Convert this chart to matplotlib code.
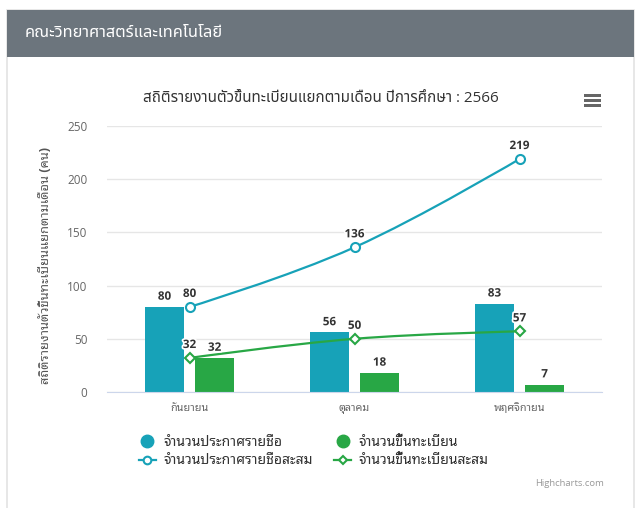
import matplotlib
matplotlib.use("Agg")
import matplotlib.pyplot as plt
import matplotlib.patheffects as pe
from matplotlib.patches import Rectangle, PathPatch
from matplotlib.path import Path
from matplotlib.lines import Line2D

# data
months = ["กันยายน", "ตุลาคม", "พฤศจิกายน"]
announced = [80, 56, 83]
registered = [32, 18, 7]
announced_cum = [80, 136, 219]
registered_cum = [32, 50, 57]
series_names = ["จำนวนประกาศรายชื่อ", "จำนวนขึ้นทะเบียน",
                "จำนวนประกาศรายชื่อสะสม", "จำนวนขึ้นทะเบียนสะสม"]

blue = "#17a2b8"
green = "#28a745"
thai = ["Open Sans", "Noto Sans Thai Looped"]
thai_title = ["Open Sans", "Noto Sans Thai"]


def spline_path(xs, ys):
    # highcharts-style spline (smoothing 1.5), control points only on inner points
    n = len(xs)
    lc = [(xs[i], ys[i]) for i in range(n)]
    rc = [(xs[i], ys[i]) for i in range(n)]
    for i in range(1, n - 1):
        x0, y0 = xs[i - 1], ys[i - 1]
        x1, y1 = xs[i], ys[i]
        x2, y2 = xs[i + 1], ys[i + 1]
        lcx = (1.5 * x1 + x0) / 2.5
        lcy = (1.5 * y1 + y0) / 2.5
        rcx = (1.5 * x1 + x2) / 2.5
        rcy = (1.5 * y1 + y2) / 2.5
        corr = ((rcy - lcy) * (rcx - x1)) / (rcx - lcx) + y1 - rcy
        lc[i] = (lcx, lcy + corr)
        rc[i] = (rcx, rcy + corr)
    verts = [(xs[0], ys[0])]
    codes = [Path.MOVETO]
    for i in range(1, n):
        verts += [rc[i - 1], lc[i], (xs[i], ys[i])]
        codes += [Path.CURVE4] * 3
    return Path(verts, codes)


fig = plt.figure(figsize=(6.4, 5.08), dpi=100)
fig.patch.set_facecolor("white")

# card + header
fig.patches.append(Rectangle((7 / 640, -0.01), 627 / 640, 1 - 10 / 508 + 0.01,
                             transform=fig.transFigure, facecolor="white",
                             edgecolor="#e3e3e3", linewidth=1.2, zorder=-2))
fig.patches.append(Rectangle((7 / 640, 1 - 57 / 508), 627 / 640, 47 / 508,
                             transform=fig.transFigure, facecolor="#6c757d",
                             edgecolor="none", zorder=-1))
fig.text(25 / 640, 1 - 33 / 508, "คณะวิทยาศาสตร์และเทคโนโลยี", color="white",
         fontsize=11.8, family=thai_title, weight="bold", va="center", ha="left")

ax = fig.add_axes([107 / 640, 1 - 392 / 508, 495 / 640, 266 / 508])
ax.set_zorder(1)
x = list(range(len(months)))
w = 0.236
off = 0.152
ax.bar([i - off for i in x], announced, width=w, color=blue, zorder=2)
ax.bar([i + off for i in x], registered, width=w, color=green, zorder=2)

for ys_, c in [(announced_cum, blue), (registered_cum, green)]:
    ax.add_patch(PathPatch(spline_path(x, ys_), fill=False, edgecolor=c,
                           linewidth=1.6, zorder=3))
ax.plot(x, announced_cum, linestyle="none", marker="o", markersize=6.5,
        markerfacecolor="white", markeredgecolor=blue, markeredgewidth=1.5, zorder=4)
ax.plot(x, registered_cum, linestyle="none", marker="D", markersize=5.2,
        markerfacecolor="white", markeredgecolor=green, markeredgewidth=1.5, zorder=4)

outline = [pe.withStroke(linewidth=2.5, foreground="white")]
lab = dict(ha="center", va="bottom", fontsize=8.4, weight="bold", color="#333333",
           family="Open Sans", textcoords="offset points", path_effects=outline, zorder=5)
for i in x:
    ax.annotate(str(announced[i]), (i - off, announced[i]), xytext=(0, 3), **lab)
    ax.annotate(str(registered[i]), (i + off, registered[i]), xytext=(0, 3), **lab)
    ax.annotate(str(announced_cum[i]), (i, announced_cum[i]), xytext=(0, 5), **lab)
    ax.annotate(str(registered_cum[i]), (i, registered_cum[i]), xytext=(0, 5), **lab)

ax.set_xlim(-0.5, 2.5)
ax.set_ylim(0, 250)
ax.set_yticks([0, 50, 100, 150, 200, 250])
ax.set_xticks(x)
ax.set_xticklabels(months, family=thai, fontsize=7.8, color="#666666")
for t in ax.get_yticklabels():
    t.set_family("Open Sans")
ax.tick_params(axis="y", length=0, pad=14, labelsize=8.5, labelcolor="#666666")
ax.tick_params(axis="x", length=0, pad=8)
ax.grid(axis="y", color="#e6e6e6", linewidth=1)
ax.set_axisbelow(True)
for s in ["top", "right", "left"]:
    ax.spines[s].set_visible(False)
ax.spines["bottom"].set_color("#ccd6eb")
ax.set_ylabel("สถิติรายงานตัวขึ้นทะเบียนแยกตามเดือน (คน)", family=thai, fontsize=9.3,
              color="#555555", weight="bold")
ax.yaxis.set_label_coords(-0.111, 0.474)

fig.text(321 / 640, 1 - 98 / 508, "สถิติรายงานตัวขึ้นทะเบียนแยกตามเดือน ปีการศึกษา : 2566",
         ha="center", va="center", fontsize=10.9, color="#333333", family=thai_title)

# menu icon
for yy in [95.5, 100.5, 105.5]:
    fig.patches.append(Rectangle((584 / 640, 1 - (yy + 1.3) / 508), 17 / 640, 2.6 / 508,
                                 transform=fig.transFigure, facecolor="#666666",
                                 edgecolor="none", zorder=2))

handles = [
    Line2D([], [], linestyle="none", marker="o", markersize=9, color=blue),
    Line2D([], [], color=blue, linewidth=1.6, marker="o", markersize=5.5,
           markerfacecolor="white", markeredgewidth=1.5),
    Line2D([], [], linestyle="none", marker="o", markersize=9, color=green),
    Line2D([], [], color=green, linewidth=1.6, marker="D", markersize=4.5,
           markerfacecolor="white", markeredgewidth=1.5),
]
labels = [series_names[0], series_names[2], series_names[1], series_names[3]]
leg = fig.legend(handles, labels, loc="upper left", bbox_to_anchor=(133 / 640, 1 - 429 / 508),
                 ncol=2, frameon=False, handlelength=1.25, handletextpad=0.55,
                 columnspacing=1.5, labelspacing=0.35, borderaxespad=0,
                 prop={"family": thai, "size": 10, "weight": "bold"})
for t in leg.get_texts():
    t.set_color("#333333")

fig.text(604 / 640, 1 - 484 / 508, "Highcharts.com", ha="right", va="center",
         fontsize=6.8, color="#999999", family="Open Sans")

fig.savefig("out.png", dpi=100)
